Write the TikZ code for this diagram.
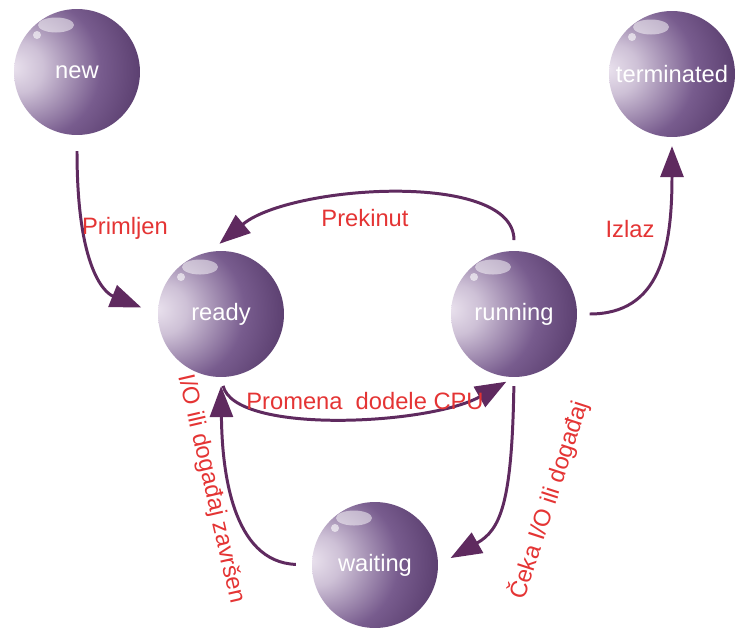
\documentclass[tikz,border=0pt]{standalone}
\usepackage{fontspec}
\setmainfont{Liberation Sans}
\usetikzlibrary{arrows.meta, calc}
\definecolor{ballpurple}{RGB}{80,52,100}
\definecolor{ballmid}{RGB}{120,92,142}
\definecolor{ballpale}{RGB}{234,226,238}
\definecolor{flowpurple}{RGB}{95,42,95}
\definecolor{labelred}{RGB}{228,52,52}
\pgfdeclareradialshading{glassball}{\pgfpoint{-26bp}{2bp}}{%
  color(0bp)=(ballpale); color(10bp)=(ballpale!75!ballmid); color(28bp)=(ballmid);
  color(46bp)=(ballpurple); color(100bp)=(ballpurple)}
\tikzset{
state/.style={circle, minimum size=2.52cm, inner sep=0pt, shading=glassball,
  text=white, font=\fontsize{13.5}{15}\selectfont,
  path picture={
    \fill[white, opacity=0.5, rotate around={12:($(path picture bounding box.center)+(-0.42cm,0.94cm)$)}]
      ($(path picture bounding box.center)+(-0.42cm,0.94cm)$) ellipse (0.36cm and 0.15cm);
    \fill[white, opacity=0.6] ($(path picture bounding box.center)+(-0.8cm,0.74cm)$) circle (0.08cm);
  }},
flow/.style={draw=flowpurple, line width=1.7pt, -{Triangle[length=0.62cm, width=0.46cm]}},
lbl/.style={text=labelred, font=\fontsize{13.5}{15}\selectfont},
}

\begin{document}
\begin{tikzpicture}[x=0.02cm, y=-0.02cm]
    \useasboundingbox (0,0) rectangle (747,636);

    %states
    \node[state]        (new) at (77,72)  {new};
    \node[state] (terminated) at (672,74) {terminated};
    \node[state]      (ready) at (221,314) {ready};
    \node[state]    (running) at (514,314) {running};
    \node[state]    (waiting) at (375,565) {waiting};

    %transitions
    \draw[flow, shorten <=9pt, shorten >=10pt] (new.south) .. controls (77,280) and (110,295) .. (ready.west);
    \draw[flow, shorten <=6pt, shorten >=7pt] (running.north) .. controls (514,170) and (290,185) .. (ready.100);
    \draw[flow, shorten <=7pt, shorten >=5pt] (running.east) .. controls (660,314) and (672,250) .. (terminated.south);
    \draw[flow, shorten <=5pt, shorten >=5pt] (ready.south) .. controls (235,435) and (430,425) .. (running.south);
    \draw[flow, shorten <=5pt, shorten >=8pt] (running.south) .. controls (512,505) and (500,530) .. (waiting.east);
    \draw[flow, shorten <=9pt, shorten >=5pt] (waiting.west) .. controls (232,562) and (222,470) .. (ready.south);

    %labels
    \node[lbl] (lprimljen) at (125,228) {Primljen};
    \node[lbl] (lprekinut) at (365,218) {Prekinut};
    \node[lbl]    (lizlaz) at (630,229) {Izlaz};
    \node[lbl]  (lpromena) at (365,401) {Promena\ \ dodele CPU};
    \node[lbl, rotate=-77] (lzavrsen) at (211,489) {I/O ili događaj završen};
    \node[lbl, rotate=72]     (lceka) at (549,500) {Čeka I/O ili događaj};
\end{tikzpicture}
\end{document}
